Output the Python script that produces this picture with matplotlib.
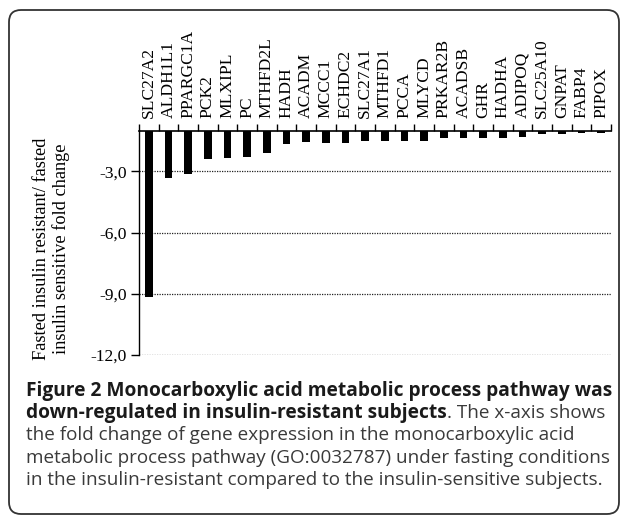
import matplotlib
matplotlib.use("Agg")
import matplotlib.pyplot as plt
from matplotlib.patches import FancyBboxPatch
import numpy as np

# ---- data ----
genes = ["SLC27A2", "ALDH1L1", "PPARGC1A", "PCK2", "MLXIPL", "PC", "MTHFD2L",
         "HADH", "ACADM", "MCCC1", "ECHDC2", "SLC27A1", "MTHFD1", "PCCA",
         "MLYCD", "PRKAR2B", "ACADSB", "GHR", "HADHA", "ADIPOQ", "SLC25A10",
         "GNPAT", "FABP4", "PIPOX"]
fold_change = [-9.17, -3.31, -3.11, -2.41, -2.35, -2.28, -2.09,
               -1.63, -1.57, -1.58, -1.58, -1.50, -1.50, -1.50,
               -1.50, -1.38, -1.38, -1.38, -1.38, -1.30, -1.17,
               -1.17, -1.12, -1.12]
ytick_values = [-3, -6, -9, -12]
ytick_labels = ["-3,0", "-6,0", "-9,0", "-12,0"]
ylabel_text = "Fasted insulin resistant/ fasted\ninsulin sensitive fold change"
caption_bold_1 = "Figure 2 Monocarboxylic acid metabolic process pathway was"
caption_bold_2 = "down-regulated in insulin-resistant subjects"
caption_rest_2 = ". The x-axis shows"
caption_lines = ["the fold change of gene expression in the monocarboxylic acid",
                 "metabolic process pathway (GO:0032787) under fasting conditions",
                 "in the insulin-resistant compared to the insulin-sensitive subjects."]

W, H = 627, 517
fig = plt.figure(figsize=(W / 100, H / 100), dpi=100)

# overlay axes in pixel coordinates for the frame and caption
ov = fig.add_axes([0, 0, 1, 1], zorder=0)
ov.set_xlim(0, W)
ov.set_ylim(H, 0)
ov.axis("off")
frame = FancyBboxPatch((9, 10), 610, 504, boxstyle="round,pad=0,rounding_size=12",
                       fc="none", ec="#333333", lw=1.3)
ov.add_patch(frame)

serif = ["Liberation Serif", "DejaVu Serif"]
sans = ["Open Sans", "DejaVu Sans"]

# ---- chart ----
left, right, top, bottom = 139, 611, 130.7, 355
ax = fig.add_axes([left / W, 1 - bottom / H, (right - left) / W, (bottom - top) / H], zorder=2)
ax.patch.set_alpha(0)
x = np.arange(len(genes))
ax.bar(x, fold_change, width=0.4, color="black", zorder=3)
ax.set_xlim(-0.5, len(genes) - 0.5)
ax.set_ylim(-12, -1)

for v in ytick_values:
    ax.axhline(v, color="#222222", lw=0.9, ls=(0, (1, 1)), zorder=1)

ax.set_yticks(ytick_values)
ax.set_yticklabels(ytick_labels, family=serif, fontsize=12.6)
ax.tick_params(axis="y", direction="out", length=6, width=1, pad=3)

ax.xaxis.tick_top()
ax.set_xticks(x)
ax.set_xticklabels(genes, rotation=90, family=serif, fontsize=12.6)
ax.tick_params(axis="x", which="major", length=0, pad=9)
ax.set_xticks(np.arange(-0.5, len(genes)), minor=True)
ax.tick_params(axis="x", which="minor", direction="out", length=5, width=1, top=True, bottom=False)

for s in ["bottom", "right"]:
    ax.spines[s].set_visible(False)
ax.spines["left"].set_linewidth(1)
ax.spines["top"].set_linewidth(1.2)

ov.text(51.5, 249, ylabel_text, family=serif, fontsize=13.2, rotation=90,
        ha="center", va="center", multialignment="center", linespacing=1.22)

# ---- caption ----
fig.canvas.draw()
r = fig.canvas.get_renderer()
cx = 26.5
base = 396
line_h = 22.2
t = ov.text(cx, base, caption_bold_1, family=sans, fontweight="bold", fontsize=12,
            color="#1a1a1a", va="baseline", ha="left")
w = t.get_window_extent(renderer=r).width
fs = 12 * (611 - cx) / w
t.set_fontsize(fs)

probe = ov.text(cx, base + line_h * 3, caption_lines[1], family=sans, fontsize=12,
                color="#3a3a3a", va="baseline", ha="left")
w2 = probe.get_window_extent(renderer=r).width
fs_reg = 12 * (607 - cx) / w2
probe.remove()

t2 = ov.text(cx, base + line_h, caption_bold_2, family=sans, fontweight="bold", fontsize=fs,
             color="#1a1a1a", va="baseline", ha="left")
fig.canvas.draw()
bb = t2.get_window_extent(renderer=r)
ov.text(cx + bb.width, base + line_h, caption_rest_2, family=sans, fontsize=fs_reg,
        color="#3a3a3a", va="baseline", ha="left")
for i, line in enumerate(caption_lines):
    ov.text(cx, base + line_h * (i + 2), line, family=sans, fontsize=fs_reg,
            color="#3a3a3a", va="baseline", ha="left")

fig.savefig("out.png", dpi=100)
